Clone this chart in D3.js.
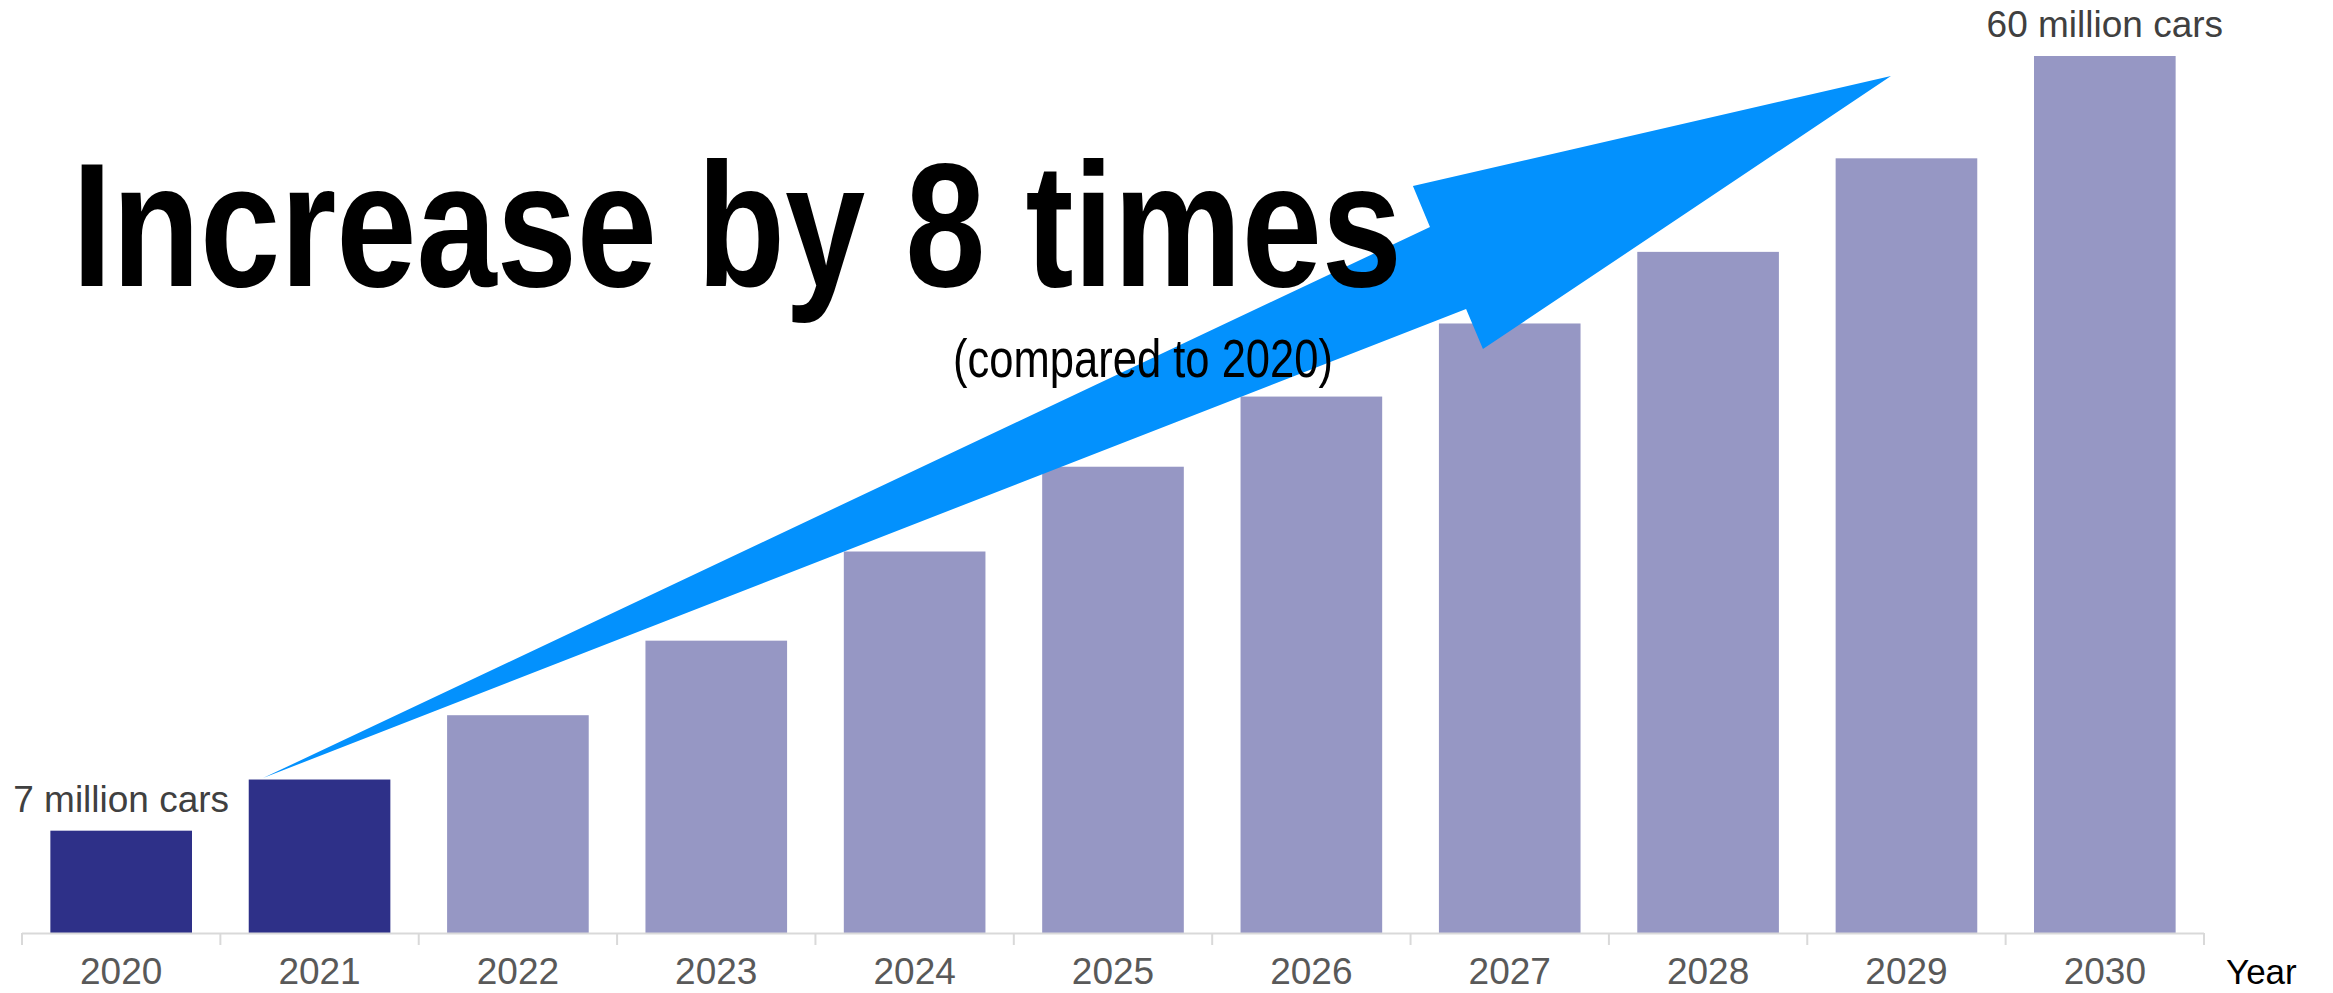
<!DOCTYPE html>
<html>
<head>
<meta charset="utf-8">
<script src="https://cdn.jsdelivr.net/npm/d3@7"></script>
<style>
  html, body { margin: 0; padding: 0; background: #ffffff; }
  svg { display: block; }
</style>
</head>
<body>
<svg id="chart" width="2333" height="993"></svg>
<script>
// ---- data ----
const years = ["2020", "2021", "2022", "2023", "2024", "2025", "2026", "2027", "2028", "2029", "2030"];
const values = [7, 10.5, 14.9, 20.0, 26.1, 31.9, 36.7, 41.7, 46.6, 53.0, 60.0]; // million cars
const actualYears = ["2020", "2021"];
const labelYears = ["2020", "2030"];
const labelTexts = ["7 million cars", "60 million cars"];
const titleText = "Increase by 8 times";
const subtitleText = "(compared to 2020)";
const axisTitle = "Year";
// arrow annotation outline in data space: [continuous year index, value]
const arrowIndex = [0.715, 6.598, 6.512, 8.922, 6.865, 6.780];
const arrowValue = [10.6, 48.3, 51.1, 58.63, 39.95, 42.69];

// ---- layout ----
const left = 22, right = 2204, baseY = 933, topY = 56;
const svg = d3.select("#chart");
const sans = "'Liberation Sans', Arial, sans-serif";

const x = d3.scaleBand().domain(years).range([left, right])
  .paddingInner(0.286).paddingOuter(0.143);
const y = d3.scaleLinear().domain([0, 60]).range([baseY, topY]);
const xi = d3.scaleLinear().domain([-0.5, years.length - 0.5]).range([left, right]);

// bars
svg.append("g").selectAll("rect").data(years).join("rect")
  .attr("x", d => x(d))
  .attr("y", (d, i) => y(values[i]))
  .attr("width", x.bandwidth())
  .attr("height", (d, i) => y(0) - y(values[i]))
  .attr("fill", d => actualYears.includes(d) ? "#2E3088" : "#9697C4");

// axis labels
const axis = svg.append("g").attr("transform", `translate(0,${baseY})`)
  .call(d3.axisBottom(x).tickSize(0).tickPadding(25));
axis.select(".domain").remove();
axis.selectAll("text")
  .attr("font-family", sans)
  .attr("font-size", 37)
  .attr("fill", "#595959");

// axis line and boundary ticks
svg.append("line")
  .attr("x1", left).attr("x2", right)
  .attr("y1", baseY + 0.5).attr("y2", baseY + 0.5)
  .attr("stroke", "#d9d9d9").attr("stroke-width", 2);
svg.append("g").selectAll("line").data(d3.range(years.length + 1)).join("line")
  .attr("x1", i => left + i * x.step()).attr("x2", i => left + i * x.step())
  .attr("y1", baseY).attr("y2", baseY + 12)
  .attr("stroke", "#d9d9d9").attr("stroke-width", 2);

svg.append("text")
  .attr("x", 2226).attr("y", 984)
  .attr("font-family", sans)
  .attr("font-size", 35)
  .attr("fill", "#000000")
  .text(axisTitle);

// arrow annotation
const arrowPts = arrowIndex.map((v, i) => [xi(v), y(arrowValue[i])]);
svg.append("path")
  .attr("d", d3.line()(arrowPts) + "Z")
  .attr("fill", "#0391FD");

// data labels
svg.append("g").selectAll("text").data(labelYears).join("text")
  .attr("x", d => x(d) + x.bandwidth() / 2)
  .attr("y", d => y(values[years.indexOf(d)]) - 19)
  .attr("text-anchor", "middle")
  .attr("font-family", sans)
  .attr("font-size", 37)
  .attr("fill", "#404040")
  .text((d, i) => labelTexts[i]);

// title and subtitle (condensed face emulated by textLength)
svg.append("text")
  .attr("x", 72).attr("y", 286)
  .attr("font-family", sans)
  .attr("font-weight", "bold")
  .attr("font-size", 177)
  .attr("textLength", 1330)
  .attr("lengthAdjust", "spacingAndGlyphs")
  .attr("fill", "#000000")
  .text(titleText);

svg.append("text")
  .attr("x", 953).attr("y", 377)
  .attr("font-family", sans)
  .attr("font-size", 53)
  .attr("textLength", 380)
  .attr("lengthAdjust", "spacingAndGlyphs")
  .attr("fill", "#000000")
  .text(subtitleText);
</script>
</body>
</html>
